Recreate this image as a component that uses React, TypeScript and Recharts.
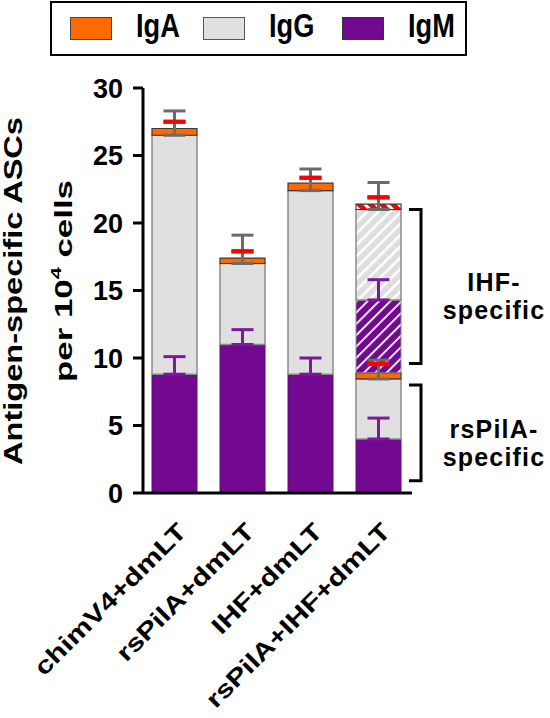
import React from 'react';
import { BarChart, Bar, XAxis, YAxis, ErrorBar, Legend } from 'recharts';

const categories = ['chimV4+dmLT', 'rsPilA+dmLT', 'IHF+dmLT', 'rsPilA+IHF+dmLT'];

// solid segments (rsPilA-specific part for the last group)
const igm = [8.8, 11.0, 8.8, 4.0];
const igg = [17.7, 6.0, 13.6, 4.45];
const iga = [0.5, 0.4, 0.55, 0.45];
// hatched segments (IHF-specific part, last group only)
const igmHatch = [0, 0, 0, 5.4];
const iggHatch = [0, 0, 0, 6.7];
const igaHatch = [0, 0, 0, 0.4];

// upper error (SEM) drawn from the top of each segment
const igmErr = [1.3, 1.1, 1.2, 1.55];
const iggErr = [1.8, 2.1, 1.6, 1.4];
const igaErr = [0.5, 0.5, 0.4, 0.65];
const igmHatchErr = [null, null, null, 1.5];
const iggHatchErr = [null, null, null, 2.0];
const igaHatchErr = [null, null, null, 0.5];

const yTicks = [0, 5, 10, 15, 20, 25, 30];

const brackets = [
  { lines: ['IHF-', 'specific'], from: 9.6, to: 21.0 },
  { lines: ['rsPilA-', 'specific'], from: 0.9, to: 8.0 },
];

const PURPLE = '#730991';
const GRAY = '#e0e0e0';
const ORANGE = '#ff6a00';
const FONT = "'Liberation Sans', Arial, Helvetica, sans-serif";

const W = 550;
const H = 718;
const MARGIN = { top: 88, right: 138, left: 83, bottom: 0 };
const X_AXIS_H = 225;
const Y_MAX = 30;
const plotTop = MARGIN.top;
const plotBottom = H - MARGIN.bottom - X_AXIS_H;
const yPx = (v: number) => plotBottom - (v / Y_MAX) * (plotBottom - plotTop);

// error drawn upward only
const upper = (e: number | null) => (e == null ? null : [0, e]);
// IgA error: only its cap shows (its stem sits behind the IgG stem)
const capOnly = (e: number | null) => (e == null ? null : [-e, e]);

const data = categories.map((name, i) => ({
  name,
  IgM: igm[i],
  IgG: igg[i],
  IgA: iga[i],
  IgMh: igmHatch[i],
  IgGh: iggHatch[i],
  IgAh: igaHatch[i],
  IgMErr: upper(igmErr[i]),
  IgGErr: upper(iggErr[i]),
  IgAErr: capOnly(igaErr[i]),
  IgMhErr: upper(igmHatchErr[i]),
  IgGhErr: upper(iggHatchErr[i]),
  IgAhErr: capOnly(igaHatchErr[i]),
}));

const legendItems = [
  { name: 'IgA', fill: ORANGE, stroke: '#444', textW: 44 },
  { name: 'IgG', fill: GRAY, stroke: '#555', textW: 50 },
  { name: 'IgM', fill: PURPLE, stroke: '#333', textW: 50 },
];

// wide lettering of the original: stretch the glyphs along the text direction
const XTick = ({ x, y, payload }: any) => {
  const ax = x + 14;
  const ay = y + 40;
  return (
    <g transform={`translate(${ax} ${ay}) rotate(-45) scale(1.25 1)`}>
      <text x={0} y={0} textAnchor="end" fontFamily={FONT} fontWeight={700} fontSize={24} fill="#000">
        {payload.value}
      </text>
    </g>
  );
};

const LegendBox = () => (
  <div
    style={{
      boxSizing: 'border-box',
      width: 417,
      height: 55,
      border: '2px solid #000',
      background: '#fff',
      display: 'flex',
      alignItems: 'center',
      paddingLeft: 18,
      fontFamily: FONT,
      fontWeight: 700,
      color: '#000',
    }}
  >
    {legendItems.map((it) => (
      <div key={it.name} style={{ display: 'flex', alignItems: 'center', marginRight: 23 }}>
        <span
          style={{
            display: 'inline-block',
            boxSizing: 'border-box',
            width: 42,
            height: 23,
            background: it.fill,
            border: `1.5px solid ${it.stroke}`,
            marginRight: 24,
          }}
        />
        <span style={{ display: 'inline-block', width: it.textW, whiteSpace: 'nowrap', lineHeight: '34px' }}>
          <span
            style={{
              display: 'inline-block',
              fontSize: 34,
              transform: 'scaleX(0.8)',
              transformOrigin: 'left center',
            }}
          >
            {it.name}
          </span>
        </span>
      </div>
    ))}
  </div>
);

export default function App() {
  return (
    <div style={{ position: 'absolute', left: 0, top: 0, width: W, height: H, background: '#fff' }}>
      <BarChart width={W} height={H} data={data} margin={MARGIN} barSize={45}>
        <defs>
          <pattern id="hatchM" patternUnits="userSpaceOnUse" width="8" height="8" patternTransform="rotate(45)">
            <rect width="8" height="8" fill={PURPLE} />
            <rect width="1.8" height="8" fill="#fff" />
          </pattern>
          <pattern id="hatchG" patternUnits="userSpaceOnUse" width="8" height="8" patternTransform="rotate(45)">
            <rect width="8" height="8" fill="#dedede" />
            <rect width="2.5" height="8" fill="#fff" />
          </pattern>
          <pattern id="hatchA" patternUnits="userSpaceOnUse" width="8" height="8" patternTransform="rotate(-45)">
            <rect width="8" height="8" fill="#ff0000" />
            <rect width="3" height="8" fill="#fff" />
          </pattern>
        </defs>
        <XAxis
          dataKey="name"
          height={X_AXIS_H}
          tickLine={false}
          tickSize={0}
          tickMargin={0}
          axisLine={{ stroke: '#000', strokeWidth: 3 }}
          tick={<XTick />}
          interval={0}
          padding={{ left: -3, right: 0 }}
        />
        <YAxis
          width={60}
          domain={[0, Y_MAX]}
          ticks={yTicks}
          allowDataOverflow
          tickSize={10}
          tickMargin={10}
          axisLine={{ stroke: '#000', strokeWidth: 3 }}
          tickLine={{ stroke: '#000', strokeWidth: 3 }}
          tick={{ fontFamily: FONT, fontWeight: 700, fontSize: 27, fill: '#000' }}
        />
        <Legend
          layout="horizontal"
          verticalAlign="middle"
          align="center"
          content={<LegendBox />}
          wrapperStyle={{ position: 'absolute', left: 50, top: 1, width: 417, height: 55 }}
        />
        <Bar dataKey="IgM" stackId="s" fill={PURPLE} stroke="#5e0a78" strokeWidth={1} isAnimationActive={false}>
          <ErrorBar dataKey="IgMErr" width={11} strokeWidth={3} stroke="#7b189b" direction="y" />
        </Bar>
        <Bar dataKey="IgG" stackId="s" fill={GRAY} stroke="#8a8a8a" strokeWidth={1.5} isAnimationActive={false}>
          <ErrorBar dataKey="IgGErr" width={11} strokeWidth={3} stroke="#6b6b6b" direction="y" />
        </Bar>
        <Bar dataKey="IgA" stackId="s" fill={ORANGE} stroke="#3a3a3a" strokeWidth={1.2} isAnimationActive={false}>
          <ErrorBar dataKey="IgAErr" width={11} strokeWidth={4} stroke="#ff0000" direction="y" />
        </Bar>
        <Bar dataKey="IgMh" stackId="s" fill="url(#hatchM)" stroke="#8a8a8a" strokeWidth={1} legendType="none" isAnimationActive={false}>
          <ErrorBar dataKey="IgMhErr" width={11} strokeWidth={3} stroke="#7b189b" direction="y" />
        </Bar>
        <Bar dataKey="IgGh" stackId="s" fill="url(#hatchG)" stroke="#8a8a8a" strokeWidth={1.5} legendType="none" isAnimationActive={false}>
          <ErrorBar dataKey="IgGhErr" width={11} strokeWidth={3} stroke="#6b6b6b" direction="y" />
        </Bar>
        <Bar dataKey="IgAh" stackId="s" fill="url(#hatchA)" stroke="#3a3a3a" strokeWidth={1.2} legendType="none" isAnimationActive={false}>
          <ErrorBar dataKey="IgAhErr" width={11} strokeWidth={4} stroke="#ff0000" direction="y" />
        </Bar>
      </BarChart>
      <svg
        width={W}
        height={H}
        style={{ position: 'absolute', left: 0, top: 0, pointerEvents: 'none' }}
        fontFamily={FONT}
        fontWeight={700}
      >
        <text transform="translate(22 291) rotate(-90)" textAnchor="middle" fontSize={25} textLength={348} lengthAdjust="spacingAndGlyphs">
          Antigen-specific ASCs
        </text>
        <text transform="translate(72 281) rotate(-90)" textAnchor="middle" fontSize={24} textLength={202} lengthAdjust="spacingAndGlyphs">
          per 10<tspan fontSize={15} dy={-11}>4</tspan>
          <tspan dy={11}> cells</tspan>
        </text>
        {brackets.map((b) => {
          const y1 = yPx(b.to);
          const y2 = yPx(b.from);
          const mid = (y1 + y2) / 2;
          return (
            <g key={b.lines[0]}>
              <path d={`M409 ${y1} H421 V${y2} H409`} fill="none" stroke="#000" strokeWidth={3} />
              <text x={494} y={mid + 5} textAnchor="middle" fontSize={25} letterSpacing={1.2}>
                {b.lines[0]}
              </text>
              <text x={494} y={mid + 33} textAnchor="middle" fontSize={25} letterSpacing={1.2}>
                {b.lines[1]}
              </text>
            </g>
          );
        })}
      </svg>
    </div>
  );
}
